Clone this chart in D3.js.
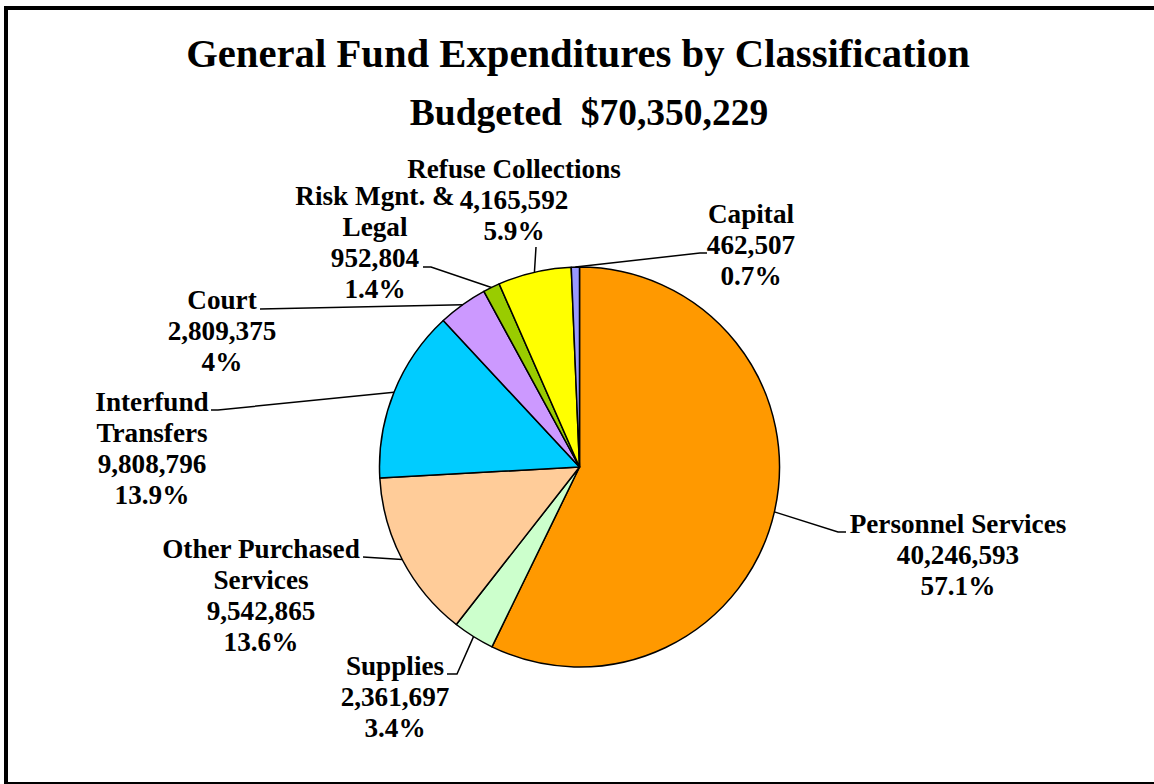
<!DOCTYPE html>
<html>
<head>
<meta charset="utf-8">
<script src="https://cdn.jsdelivr.net/npm/d3@7"></script>
<style>
  html, body { margin: 0; padding: 0; background: #fff; }
  svg { display: block; }
  text { font-family: "Liberation Serif", "Times New Roman", serif; font-weight: bold; fill: #000; }
</style>
</head>
<body>
<svg id="chart" width="1154" height="784"></svg>
<script>
// Budget classifications, clockwise from 12 o'clock
const categories = [
  "Personnel Services", "Supplies", "Other Purchased Services", "Interfund Transfers",
  "Court", "Risk Mgnt. & Legal", "Refuse Collections", "Capital"
];
const amounts = [40246593, 2361697, 9542865, 9808796, 2809375, 952804, 4165592, 462507];
const percentLabels = ["57.1%", "3.4%", "13.6%", "13.9%", "4%", "1.4%", "5.9%", "0.7%"];
// Label text split across lines
const nameLines = [
  ["Personnel Services"], ["Supplies"], ["Other Purchased", "Services"], ["Interfund", "Transfers"],
  ["Court"], ["Risk Mgnt. &", "Legal"], ["Refuse Collections"], ["Capital"]
];
const sliceColors = ["#FF9900", "#CCFFCC", "#FFCC99", "#00CCFF", "#CC99FF", "#99CC00", "#FFFF00", "#9999FF"];
const budgetTotal = "$70,350,229";

// Label placement: x = text centre, y = first baseline, tail = leader line points on the label side
const labelLayout = [
  { x: 958, y: 533, tail: [[846, 532], [838, 532]] },
  { x: 395, y: 675, tail: [[447, 674], [457, 674]] },
  { x: 261, y: 558, tail: [[363, 557]] },
  { x: 152, y: 411, tail: [[211, 410], [218, 410]] },
  { x: 222, y: 309, tail: [[260, 309]] },
  { x: 375, y: 205, tail: [[423, 267], [431, 267]] },
  { x: 514, y: 178, tail: [[536, 247]] },
  { x: 751, y: 223, tail: [[707, 253], [700, 253]] }
];

const svg = d3.select("#chart");
const fmt = d3.format(",");

// Outer frame
svg.append("rect")
  .attr("x", 6).attr("y", 8).attr("width", 1170).attr("height", 776)
  .attr("fill", "none").attr("stroke", "#000").attr("stroke-width", 4);

// Titles
svg.append("text").attr("x", 578).attr("y", 67).attr("text-anchor", "middle")
  .style("font-size", "40.7px").text("General Fund Expenditures by Classification");
svg.append("text").attr("x", 589).attr("y", 125).attr("text-anchor", "middle")
  .style("font-size", "37.5px").style("white-space", "pre").attr("xml:space", "preserve")
  .text("Budgeted  " + budgetTotal);

// Pie
const cx = 579.5, cy = 467, radius = 200;
const data = categories.map((c, i) => ({ name: c, value: amounts[i], i }));
const pie = d3.pie().sort(null).value(d => d.value).startAngle(0).endAngle(2 * Math.PI);
const arcs = pie(data);
const arc = d3.arc().innerRadius(0).outerRadius(radius);

const g = svg.append("g").attr("transform", `translate(${cx},${cy})`);
g.selectAll("path.slice").data(arcs).join("path")
  .attr("class", "slice")
  .attr("d", arc)
  .attr("fill", d => sliceColors[d.data.i])
  .attr("stroke", "#000").attr("stroke-width", 1.5).attr("stroke-linejoin", "round");

// Leader lines from slice edge (mid-angle) to label
const edgePoint = a => {
  const m = (a.startAngle + a.endAngle) / 2;
  return [cx + radius * Math.sin(m), cy - radius * Math.cos(m)];
};
svg.selectAll("polyline.leader").data(arcs).join("polyline")
  .attr("class", "leader")
  .attr("points", d => labelLayout[d.data.i].tail.concat([edgePoint(d)]).map(p => p.join(",")).join(" "))
  .attr("fill", "none").attr("stroke", "#000").attr("stroke-width", 1.5);

// Labels
const lineGap = 31;
arcs.forEach(a => {
  const i = a.data.i, L = labelLayout[i];
  const lines = nameLines[i].concat([fmt(amounts[i]), percentLabels[i]]);
  const t = svg.append("text").attr("text-anchor", "middle").style("font-size", "27.2px");
  lines.forEach((s, k) => t.append("tspan").attr("x", L.x).attr("y", L.y + k * lineGap).text(s));
});
</script>
</body>
</html>
